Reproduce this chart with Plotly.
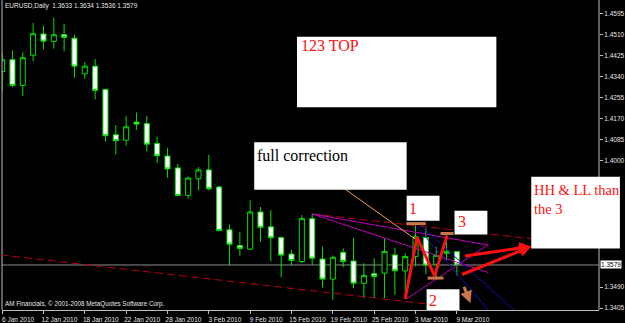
import plotly.graph_objects as go

# ---------------- data ----------------
dates = ["2010-01-06", "2010-01-07", "2010-01-08", "2010-01-11", "2010-01-12", "2010-01-13",
         "2010-01-14", "2010-01-15", "2010-01-18", "2010-01-19", "2010-01-20", "2010-01-21",
         "2010-01-22", "2010-01-25", "2010-01-26", "2010-01-27", "2010-01-28", "2010-01-29",
         "2010-02-01", "2010-02-02", "2010-02-03", "2010-02-04", "2010-02-05", "2010-02-08",
         "2010-02-09", "2010-02-10", "2010-02-11", "2010-02-12", "2010-02-15", "2010-02-16",
         "2010-02-17", "2010-02-18", "2010-02-19", "2010-02-22", "2010-02-23", "2010-02-24",
         "2010-02-25", "2010-02-26", "2010-03-01", "2010-03-02", "2010-03-03", "2010-03-04",
         "2010-03-05", "2010-03-08", "2010-03-09"]

opens = [1.4360, 1.4408, 1.4304, 1.4426, 1.4512, 1.4482, 1.4509, 1.4495, 1.4351, 1.4382,
         1.4288, 1.4105, 1.4083, 1.4156, 1.4150, 1.4070, 1.4019, 1.3971, 1.3860, 1.3927,
         1.3963, 1.3894, 1.3721, 1.3658, 1.3643, 1.3793, 1.3733, 1.3690, 1.3623, 1.3593,
         1.3766, 1.3603, 1.3522, 1.3630, 1.3595, 1.3505, 1.3544, 1.3546, 1.3619, 1.3555,
         1.3613, 1.3690, 1.3582, 1.3626, 1.3633]
highs = [1.4436, 1.4446, 1.4438, 1.4556, 1.4545, 1.4578, 1.4553, 1.4509, 1.4398, 1.4411,
         1.4292, 1.4144, 1.4181, 1.4195, 1.4181, 1.4097, 1.4052, 1.3987, 1.3936, 1.3974,
         1.4024, 1.3900, 1.3743, 1.3713, 1.3840, 1.3813, 1.3800, 1.3693, 1.3639, 1.3780,
         1.3785, 1.3653, 1.3617, 1.3646, 1.3689, 1.3586, 1.3606, 1.3686, 1.3649, 1.3626,
         1.3739, 1.3729, 1.3653, 1.3702, 1.3634]
lows = [1.4280, 1.4297, 1.4261, 1.4402, 1.4449, 1.4453, 1.4442, 1.4335, 1.4331, 1.4248,
        1.4077, 1.4024, 1.4061, 1.4125, 1.4038, 1.3991, 1.3931, 1.3857, 1.3847, 1.3880,
        1.3880, 1.3715, 1.3577, 1.3617, 1.3639, 1.3673, 1.3593, 1.3528, 1.3577, 1.3586,
        1.3579, 1.3488, 1.3438, 1.3570, 1.3485, 1.3445, 1.3445, 1.3445, 1.3459, 1.3443,
        1.3573, 1.3542, 1.3528, 1.3599, 1.3536]
closes = [1.4408, 1.4304, 1.4416, 1.4513, 1.4483, 1.4509, 1.4498, 1.4382, 1.4382, 1.4284,
          1.4101, 1.4081, 1.4137, 1.4148, 1.4067, 1.4020, 1.3967, 1.3860, 1.3930, 1.3963,
          1.3887, 1.3718, 1.3663, 1.3646, 1.3793, 1.3731, 1.3689, 1.3619, 1.3597, 1.3766,
          1.3606, 1.3522, 1.3610, 1.3593, 1.3505, 1.3536, 1.3532, 1.3633, 1.3556, 1.3613,
          1.3693, 1.3579, 1.3618, 1.3634, 1.3579]

date_tick_idx = [0, 4, 8, 12, 16, 20, 24, 28, 32, 36, 40, 44]
date_tick_text = ["6 Jan 2010", "12 Jan 2010", "18 Jan 2010", "22 Jan 2010", "28 Jan 2010",
                  "3 Feb 2010", "9 Feb 2010", "15 Feb 2010", "19 Feb 2010", "25 Feb 2010",
                  "3 Mar 2010", "9 Mar 2010"]
# price labels that remain visible (the others are covered by the note box / price tag)
price_ticks = [1.4595, 1.4510, 1.4425, 1.4340, 1.4255, 1.4170, 1.4085, 1.4000,
               1.3490, 1.3405]

title_text = "EURUSD,Daily  1.3633 1.3634 1.3536 1.3579"
copyright_text = "AM Financials, \u00a9 2001-2008 MetaQuotes Software Corp."

# ---------------- styles ----------------
GREEN = "#00E000"
AXIS = "#bdbdbd"
TXT = "#e6e6e6"
DARKRED = "#B40018"
MAGENTA = "#C000C0"
BLUE = "#1010B8"
BROWN = "#C8784A"
ORANGE = "#F0A050"
RED = "#FF1010"
SERIF = "Liberation Serif, Times New Roman, serif"
SANS = "Liberation Sans, Arial, sans-serif"

x = list(range(len(dates)))

fig = go.Figure()
fig.add_trace(go.Candlestick(
    x=x, open=opens, high=highs, low=lows, close=closes,
    increasing=dict(line=dict(color=GREEN, width=1), fillcolor="black"),
    decreasing=dict(line=dict(color=GREEN, width=1), fillcolor="white"),
    whiskerwidth=0, hoverinfo="skip", showlegend=False,
))

shapes = []


def seg(x0, y0, x1, y1, color, width=1, dash=None):
    d = dict(type="line", xref="x", yref="y", x0=x0, y0=y0, x1=x1, y1=y1,
             line=dict(color=color, width=width), layer="above")
    if dash:
        d["line"]["dash"] = dash
    shapes.append(d)


def box(x0, y0, x1, y1, xref="x"):
    shapes.append(dict(type="rect", xref=xref, yref="y", x0=x0, y0=y0, x1=x1, y1=y1,
                       fillcolor="white", line=dict(width=0), layer="above"))


# chart frame (left / right borders)
for xp in (0, 1):
    shapes.append(dict(type="line", xref="paper", yref="paper", x0=xp, x1=xp, y0=0, y1=1,
                       line=dict(color=AXIS, width=1), layer="above"))

# current price line
shapes.append(dict(type="line", xref="paper", yref="y", x0=0, x1=1, y0=closes[-1], y1=closes[-1],
                   line=dict(color="#8a8a8a", width=1), layer="below"))

# trend lines
seg(-0.2, 1.3620, 41.26, 1.3421, DARKRED, 1, "8px,4px")
seg(30, 1.3785, 51.39, 1.3684, DARKRED, 1, "8px,4px")
seg(30, 1.3785, 47.05, 1.3659, MAGENTA, 1)
seg(30, 1.3785, 47.05, 1.3548, MAGENTA, 1)
seg(39.02, 1.3439, 47.05, 1.3662, MAGENTA, 1)
seg(40.1, 1.3734, 48.0, 1.3351, BLUE, 1)
seg(40.49, 1.3738, 50.0, 1.3378, BLUE, 1)
seg(33.26, 1.3883, 40.3, 1.3674, ORANGE, 1)

# 1-2-3 zigzag
seg(39.0, 1.3443, 40.15, 1.3692, RED, 3)
seg(40.15, 1.3692, 41.84, 1.3534, RED, 3)
seg(41.84, 1.3534, 43.05, 1.3698, RED, 3)

# brown level marks
seg(39.1, 1.3746, 41.0, 1.3746, BROWN, 3)
seg(41.17, 1.3526, 42.71, 1.3526, BROWN, 3)
seg(42.42, 1.3706, 43.67, 1.3706, BROWN, 3)

# white label boxes
box(28.53, 1.4501, 47.82, 1.4216)
box(24.39, 1.4075, 39.14, 1.3883)
box(39.14, 1.3859, 42.32, 1.3758)
box(43.77, 1.3798, 46.95, 1.3702)
box(41.07, 1.3481, 44.25, 1.3380)
box(0.8865, 1.3935, 1.035, 1.3646, xref="paper")

annotations = []


def label(xv, yv, text, size=16, color=RED, xref="x"):
    annotations.append(dict(x=xv, y=yv, xref=xref, yref="y", text=text, showarrow=False,
                            xanchor="left", yanchor="middle", align="left",
                            font=dict(family=SERIF, size=size, color=color)))


label(28.75, 1.4465, "123 TOP")
label(24.45, 1.4023, "full correction", color="black")
label(39.2, 1.3809, "1")
label(43.9, 1.3755, "3")
label(41.1, 1.3434, "2")
label(0.8885, 1.3843, "HH &amp; LL than<br>the 3", size=14.5, xref="paper")

# arrows
for (tx, ty, hx, hy, col, w) in [(44.64, 1.3614, 51.2, 1.3654, RED, 3),
                                 (44.35, 1.3538, 51.2, 1.3654, RED, 3),
                                 (44.64, 1.3497, 45.31, 1.3425, BROWN, 3)]:
    annotations.append(dict(x=hx, y=hy, xref="x", yref="y", ax=tx, ay=ty, axref="x", ayref="y",
                            text="", showarrow=True, arrowhead=2, arrowsize=0.8,
                            arrowwidth=w, arrowcolor=col))

# title, copyright, current price tag
annotations.append(dict(x=0.002, y=0.981, xref="paper", yref="paper", text=title_text,
                        showarrow=False, xanchor="left", yanchor="middle",
                        font=dict(family=SANS, size=6.5, color=TXT)))
annotations.append(dict(x=0.002, y=0.018, xref="paper", yref="paper", text=copyright_text,
                        showarrow=False, xanchor="left", yanchor="middle",
                        font=dict(family=SANS, size=6.3, color=TXT)))
annotations.append(dict(x=1, y=closes[-1], xref="paper", yref="y", text=f"{closes[-1]:.4f}",
                        showarrow=False, xanchor="left", yanchor="middle", xshift=1,
                        bgcolor="white", borderpad=0,
                        font=dict(family=SANS, size=6.5, color="black")))

fig.update_layout(
    width=625, height=323,
    margin=dict(l=2, r=24, t=0, b=11),
    paper_bgcolor="black", plot_bgcolor="black",
    shapes=shapes, annotations=annotations,
    showlegend=False,
    xaxis=dict(range=[-0.01, 57.75], tickmode="array", tickvals=date_tick_idx,
               ticktext=date_tick_text, ticks="outside", ticklen=3, tickcolor=AXIS,
               tickfont=dict(family=SANS, size=6.5, color=TXT), ticklabelshift=16,
               showgrid=False, zeroline=False, showline=True, linecolor=AXIS,
               rangeslider=dict(visible=False), fixedrange=True),
    yaxis=dict(range=[1.339712, 1.464918], side="right", tickmode="array",
               tickvals=price_ticks, tickformat=".4f", ticks="outside", ticklen=3,
               tickcolor=AXIS, tickfont=dict(family=SANS, size=6.5, color=TXT),
               showgrid=False, zeroline=False, showline=False,
               fixedrange=True),
)

fig.write_html("out.html")
